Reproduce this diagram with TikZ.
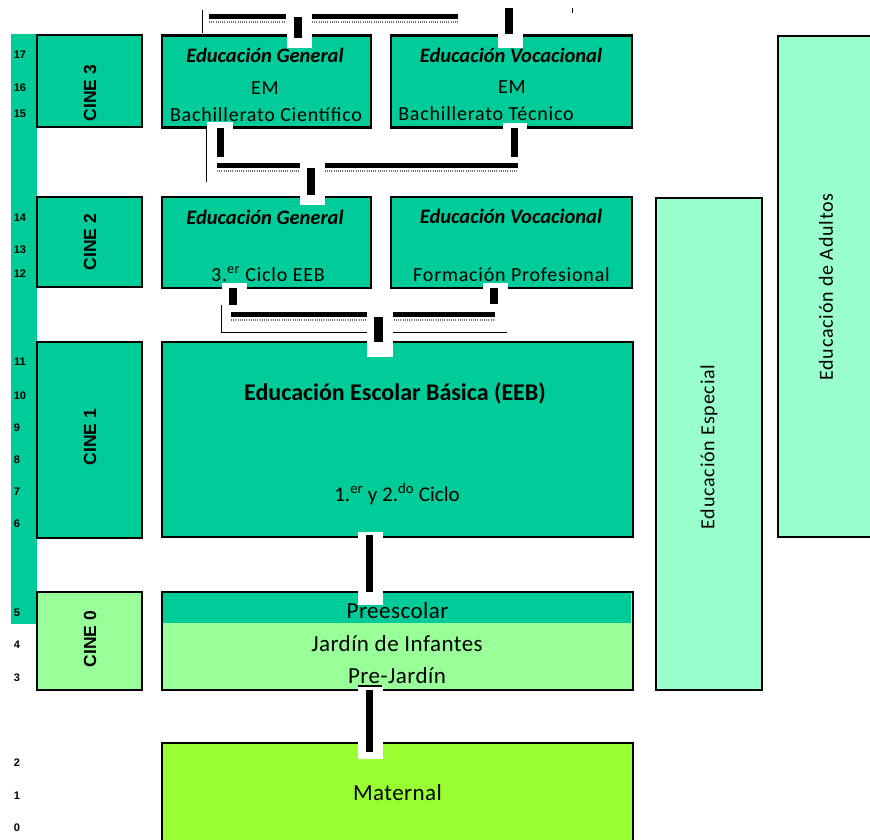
\documentclass[tikz,border=0pt]{standalone}
\usepackage{fontspec}
\setmainfont{Carlito}
\newfontfamily\numfont{Liberation Sans}
\definecolor{teal1}{RGB}{0,204,153}
\definecolor{lgreen}{RGB}{153,255,153}
\definecolor{mint}{RGB}{153,255,204}
\definecolor{lime}{RGB}{153,255,51}
\tikzset{
 box/.style={draw=black, line width=2.5pt, inner sep=0pt, outer sep=0pt, rectangle},
 patch/.style={fill=white},
 bar/.style={fill=black},
 thinline/.style={draw=black, line width=1pt},
 ruler/.style={draw=black!55, line width=2pt, dash pattern=on 0.8pt off 1.4pt},
 age/.style={font=\numfont\bfseries\fontsize{11}{13}\selectfont, inner sep=0pt},
 cine/.style={font=\numfont\bfseries\fontsize{17.5}{20}\selectfont, rotate=90, inner sep=0pt},
 tit/.style={font=\bfseries\itshape\fontsize{20.5}{24}\selectfont, anchor=base, inner sep=0pt},
 txt/.style={font={\fontsize{20}{24}\selectfont\addfontfeature{LetterSpace=4}}, anchor=base, inner sep=0pt},
 big/.style={font={\fontsize{23}{27}\selectfont\addfontfeature{LetterSpace=2}}, anchor=base, inner sep=0pt},
 rot/.style={font={\fontsize{20}{24}\selectfont\addfontfeature{LetterSpace=4}}, rotate=90, inner sep=0pt},
}
\begin{document}
\begin{tikzpicture}[x=1pt,y=-1pt]
\useasboundingbox (0,0) rectangle (870,839);
\clip (0,0) rectangle (870,839);
% age strip
\fill[teal1] (11,34) rectangle (37,624);
% CINE boxes
\node[box, fill=teal1, minimum width=105pt, minimum height=92pt] (c3) at (89.5,81) {};
\node[box, fill=teal1, minimum width=105pt, minimum height=90pt] (c2) at (89.5,242) {};
\node[box, fill=teal1, minimum width=105pt, minimum height=196pt] (c1) at (89.5,440) {};
\node[box, fill=lgreen, minimum width=105pt, minimum height=98pt] (c0) at (89.5,641) {};
% programme boxes
\node[box, fill=teal1, minimum width=209pt, minimum height=92pt] (eg3) at (266.5,81.5) {};
\node[box, fill=teal1, minimum width=241pt, minimum height=92pt] (ev3) at (511.5,81.5) {};
\node[box, fill=teal1, minimum width=209pt, minimum height=91pt] (eg2) at (266.5,242.5) {};
\node[box, fill=teal1, minimum width=241pt, minimum height=91pt] (ev2) at (511.5,242.5) {};
\node[box, fill=teal1, minimum width=471pt, minimum height=195pt] (eeb) at (397.5,439.5) {};
\node[box, fill=lgreen, minimum width=471pt, minimum height=98pt] (pre) at (397.5,641) {};
\fill[teal1] ([shift={(1.25pt,-1.25pt)}]pre.north west) rectangle (631,623);
\draw[line width=2.5pt] (pre.north west) rectangle (pre.south east);
\node[box, fill=lime, minimum width=471pt, minimum height=110pt] (mat) at (397.5,798) {};
\node[box, fill=mint, minimum width=106pt, minimum height=492pt] (esp) at (709,444) {};
\node[box, fill=mint, minimum width=96pt, minimum height=501pt] (adu) at (826,286.5) {};
% connectors (top)
\draw[thinline] (202,10) -- (202,33);
\fill[bar] (209,14) rectangle (286,19);
\draw[ruler] (209,22) -- (286,22);
\fill[bar] (312,14) rectangle (458,19);
\draw[ruler] (312,22) -- (458,22);
\fill[patch] (287,20) rectangle (312,48);
\fill[bar] (294,17) rectangle (302,38);
\fill[patch] (498,20) rectangle (523,48);
\fill[bar] (505,8) rectangle (513,34);
\draw[thinline] (572,8) -- (572,13);
% connectors CINE3 -> CINE2
\fill[patch] (207,122) rectangle (233,131);
\fill[bar] (217,128) rectangle (224,157);
\draw[thinline] (206,128) -- (206,182);
\fill[patch] (503,123) rectangle (527,131);
\fill[bar] (511,128) rectangle (518,157);
\fill[bar] (217,163) rectangle (518,168);
\draw[ruler] (217,171) -- (518,171);
\fill[patch] (300,163) rectangle (325,205);
\fill[bar] (307,168) rectangle (315,195);
% connectors CINE2 -> CINE1
\fill[patch] (222,283) rectangle (247,305);
\fill[bar] (229,288) rectangle (237,305);
\draw[thinline] (221,305) -- (221,332) -- (507,332);
\fill[patch] (483,283) rectangle (508,300);
\fill[bar] (490,288) rectangle (498,304);
\fill[bar] (231,312) rectangle (495,317);
\draw[ruler] (231,320) -- (495,320);
\fill[patch] (367,312) rectangle (393,357);
\fill[bar] (374,317) rectangle (383,342);
% connectors CINE1 -> CINE0 -> Maternal
\fill[patch] (358,532) rectangle (383,605);
\fill[bar] (366,535) rectangle (373,592);
\fill[patch] (358,687) rectangle (383,759);
\draw[line width=1.2pt] (358,686) -- (382,686);
\fill[bar] (366,690) rectangle (373,752);
% age numbers
\foreach \a/\yy/\xx in {17/55/20,16/88/20,15/114/20,14/218/20,13/250/20,12/274/20,11/362/20,10/396/20,9/428/17,8/460/17,7/492/17,6/524/17,5/613/17,4/645/17,3/678/17,2/763/17,1/796/17,0/828/17}
  \node[age] (age\a) at (\xx,\yy) {\a};
% CINE labels
\node[cine] (l3) at (90,93) {CINE 3};
\node[cine] (l2) at (90,242) {CINE 2};
\node[cine] (l1) at (90,437) {CINE 1};
\node[cine] (l0) at (90,639) {CINE 0};
% texts
\node[tit] (teg3) at (265,62) {Educación General};
\node[txt] (tem1) at (265,94) {EM};
\node[txt] (tbc) at (266,121) {Bachillerato Científico};
\node[tit] (tev3) at (511,62) {Educación Vocacional};
\node[txt] (tem2) at (512,93) {EM};
\node[txt] (tbt) at (486,120) {Bachillerato Técnico};
\node[tit] (teg2) at (265,224) {Educación General};
\node[txt] (tcic) at (268,281) {3.\textsuperscript{er} Ciclo EEB};
\node[tit] (tev2) at (511,223) {Educación Vocacional};
\node[txt] (tfp) at (511.5,281) {Formación Profesional};
\node[font=\bfseries\fontsize{24}{28}\selectfont, anchor=base, inner sep=0pt] (teeb) at (395,400) {Educación Escolar Básica (EEB)};
\node[font=\fontsize{21}{25}\selectfont, anchor=base, inner sep=0pt] (t12) at (397,501) {1.\textsuperscript{er} y 2.\textsuperscript{do} Ciclo};
\node[big] (tpre) at (397.5,618) {Preescolar};
\node[big] (tjar) at (397,651) {Jardín de Infantes};
\node[big] (tpj) at (397,683) {Pre-Jardín};
\node[big] (tmat) at (397.5,800) {Maternal};
\node[rot] (tesp) at (709,447) {Educación Especial};
\node[rot] (tadu) at (826,287) {Educación de Adultos};
\end{tikzpicture}
\end{document}
